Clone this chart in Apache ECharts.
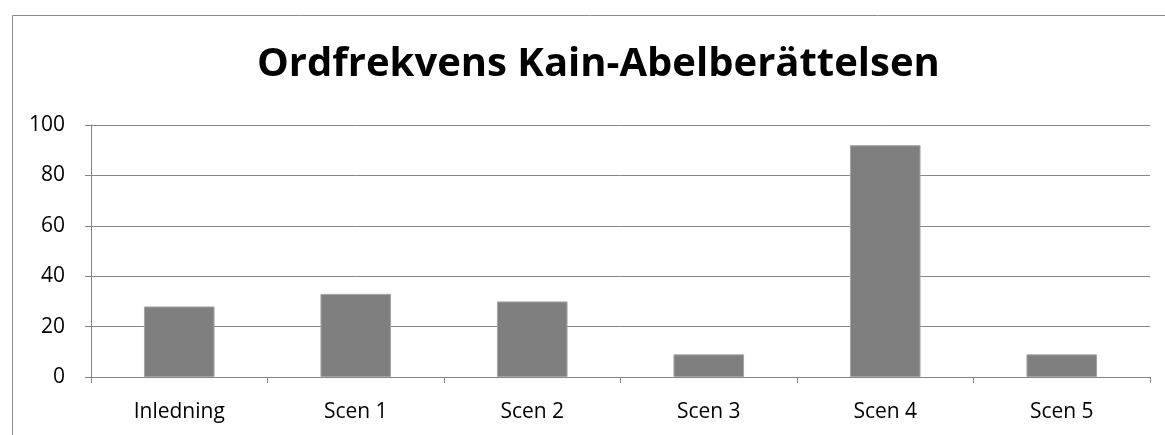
<!DOCTYPE html>
<html><head><meta charset="utf-8">
<script src="https://cdn.jsdelivr.net/npm/echarts@6/dist/echarts.min.js"></script>
<style>html,body{margin:0;padding:0;background:#fff}#c{width:1165px;height:435px}</style>
</head><body><div id="c"></div>
<script>
const titleText = "Ordfrekvens Kain-Abelberättelsen";
const categories = ["Inledning", "Scen 1", "Scen 2", "Scen 3", "Scen 4", "Scen 5"];
const values = [28, 33, 30, 9, 92, 9];
const yTicks = {min: 0, max: 100, interval: 20};

const chart = echarts.init(document.getElementById('c'), null, {renderer: 'canvas'});
const font = '"Open Sans", "Noto Sans", sans-serif';
chart.setOption({
  animation: false,
  graphic: [{
    type: 'rect', left: 10, top: 13, z: -1,
    shape: {width: 1170, height: 440},
    style: {fill: 'none', stroke: '#8c8c8c', lineWidth: 1}
  }],
  title: {
    text: titleText, left: 252, top: 40,
    textStyle: {fontFamily: font, fontWeight: 'bold', fontSize: 40, color: '#000'}
  },
  grid: {left: 91, right: 15, top: 125, bottom: 58},
  xAxis: {
    type: 'category', data: categories, boundaryGap: true,
    axisLine: {lineStyle: {color: '#868686'}},
    axisTick: {show: true, length: 6, lineStyle: {color: '#868686'}},
    axisLabel: {fontFamily: font, fontSize: 21, color: '#000', margin: 25}
  },
  yAxis: {
    type: 'value', min: yTicks.min, max: yTicks.max, interval: yTicks.interval,
    axisLine: {show: true, lineStyle: {color: '#868686'}},
    axisTick: {show: true, length: 6, lineStyle: {color: '#868686'}},
    splitLine: {lineStyle: {color: '#868686'}},
    axisLabel: {fontFamily: font, fontSize: 21, color: '#000', margin: 26}
  },
  series: [{
    type: 'bar', data: values, barCategoryGap: '60%',
    itemStyle: {color: '#7f7f7f', borderColor: '#a6a6a6', borderWidth: 1}
  }]
});
</script></body></html>
